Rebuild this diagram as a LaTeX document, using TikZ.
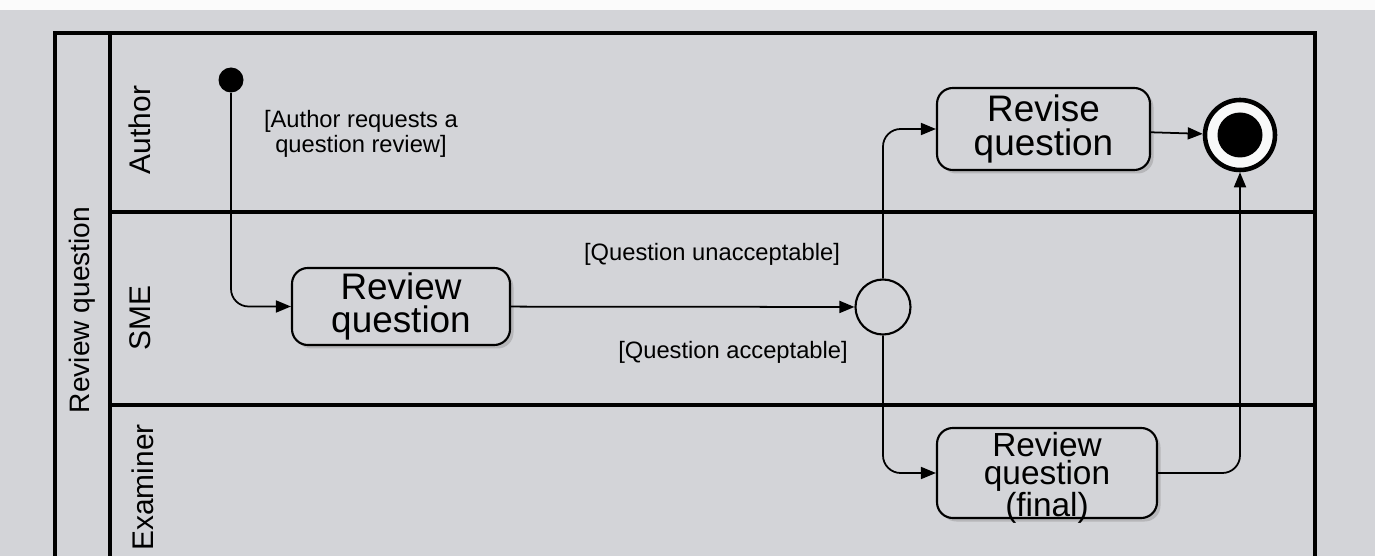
\documentclass[tikz,border=0pt]{standalone}
\usepackage{fontspec}
\setmainfont{Liberation Sans}
\usetikzlibrary{positioning,arrows.meta,shadows}
\definecolor{screen}{HTML}{D3D4D8}

\begin{document}
\begin{tikzpicture}[
  lane/.style={line width=2.2pt},
  action/.style={draw, line width=1.2pt, rounded corners=9pt, fill=screen, align=center,
    drop shadow={shadow xshift=0.7mm, shadow yshift=-0.7mm, opacity=0.35},
    font=\fontsize{21}{19}\selectfont, inner sep=0pt},
  guard/.style={font=\fontsize{13.5}{14.5}\selectfont, align=center},
  flow/.style={line width=1pt, -{Triangle[length=3mm,width=2.4mm]}, rounded corners=10pt},
  lanename/.style={rotate=90, font=\fontsize{17}{17}\selectfont}
]
\useasboundingbox (0,0) rectangle (27.5,-11.12);
\fill[screen] (0,0) rectangle (27.5,-11.12);
\fill[white!90!screen] (0,0) rectangle (27.5,-0.2);
% pool and lanes
\draw[lane] (1.1,-11.12) |- (26.3,-0.66) -- (26.3,-11.12);
\draw[lane] (2.2,-0.66) -- (2.2,-11.12);
\draw[lane] (2.2,-4.24) -- (26.3,-4.24);
\draw[lane] (2.2,-8.1) -- (26.3,-8.1);
\node[lanename, font=\fontsize{16}{16}\selectfont] (pool) at (1.65,-6.2) {Review question};
\node[lanename] (author) at (2.8,-2.6) {Author};
\node[lanename] (sme) at (2.8,-6.36) {SME};
\node[lanename] (examiner) at (2.85,-9.75) {Examiner};

% activity nodes
\node[circle, fill=black, minimum size=0.5cm, inner sep=0pt] (start) at (4.62,-1.6) {};
\node[action, minimum width=4.36cm, minimum height=1.54cm] (review) at (8.02,-6.13) {Review\\question};
\node[circle, draw, line width=1.2pt, fill=screen, minimum size=1.1cm] (choice) at (17.66,-6.14) {};
\node[action, minimum width=4.26cm, minimum height=1.64cm] (revise) at (20.87,-2.58) {Revise\\question};
\node[action, minimum width=4.4cm, minimum height=1.8cm] (final) at (20.94,-9.46) {};
\node[font=\fontsize{19}{15.5}\selectfont, align=center, inner sep=0pt] (finaltext) at ([yshift=-3pt]final.center) {Review\\question\\(final)};
\node[circle, draw, line width=2.6pt, fill=white!85!screen, minimum size=1.4cm] (end) at (24.8,-2.7) {};
\node[circle, fill=black, minimum size=0.9cm] (endin) at (end) {};

% guards
\node[guard] (gauthor) at (7.22,-2.68) {[Author requests a\\question review]};
\node[guard] (gno) at (14.24,-5.08) {[Question unacceptable]};
\node[guard] (gyes) at (14.66,-7.04) {[Question acceptable]};

% flows
\draw[flow] (start) |- (review);
\draw[flow] (review) -- (choice);
\draw[flow] (choice) |- (revise);
\draw[flow] (choice) |- (final);
\draw[flow] (revise) -- (end);
\draw[flow] (final) -| (end);
\end{tikzpicture}
\end{document}
